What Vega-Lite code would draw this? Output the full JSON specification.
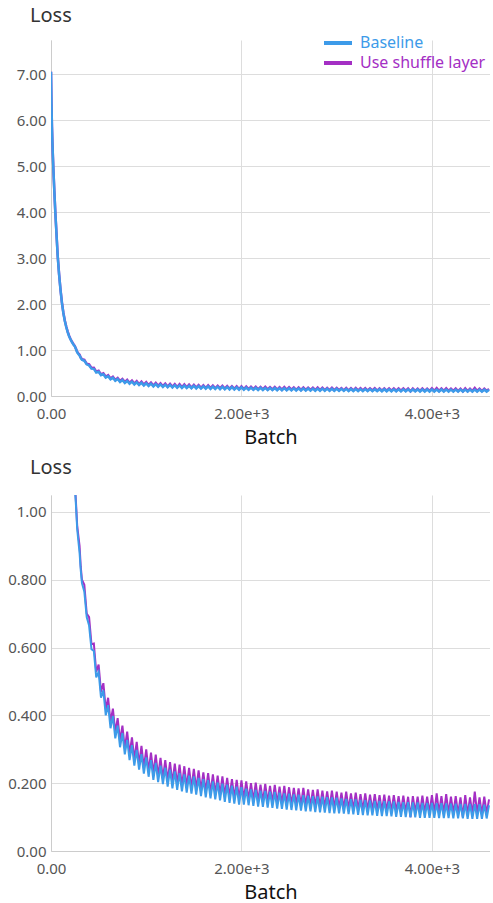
{
"$schema": "https://vega.github.io/schema/vega-lite/v6.json",
"padding": {"left": 5, "top": 6, "right": 0, "bottom": 5},
"background": "white",
"config": {
  "font": "Noto Sans",
  "view": {"stroke": null},
  "axis": {"gridColor": "#dddddd", "domainColor": "#cccccc", "ticks": false, "labelColor": "#555555", "labelFontSize": 15, "labelFont": "Noto Sans", "titleFont": "Noto Sans", "titleFontSize": 20, "titleFontWeight": "normal", "titleColor": "#111111"},
  "title": {"font": "Noto Sans", "fontSize": 20, "fontWeight": "normal", "color": "#333333", "anchor": "start", "frame": "group", "dx": -21}
},
"datasets": {
"loss": [
{"b":0,"bl":7.05,"sh":7.05},{"b":5,"bl":6.35,"sh":6.36},{"b":10,"bl":5.85,"sh":5.86},{"b":15,"bl":5.5,"sh":5.51},{"b":20,"bl":5.2,"sh":5.21},{"b":25,"bl":4.93,"sh":4.94},{"b":35,"bl":4.45,"sh":4.46},{"b":45,"bl":4.0,"sh":4.01},{"b":55,"bl":3.62,"sh":3.63},{"b":70,"bl":3.05,"sh":3.06},{"b":85,"bl":2.64,"sh":2.65},{"b":100,"bl":2.3,"sh":2.31},{"b":115,"bl":2.02,"sh":2.03},{"b":130,"bl":1.8,"sh":1.81},{"b":145,"bl":1.63,"sh":1.64},{"b":160,"bl":1.5,"sh":1.51},{"b":175,"bl":1.39,"sh":1.4},{"b":190,"bl":1.3,"sh":1.31},{"b":205,"bl":1.23,"sh":1.24},{"b":220,"bl":1.17,"sh":1.18},{"b":235,"bl":1.12,"sh":1.13},
{"b":250,"bl":1.08,"sh":1.085},{"b":262,"bl":1.02,"sh":1.03},{"b":275,"bl":0.95,"sh":0.96},{"b":287,"bl":0.915,"sh":0.93},{"b":300,"bl":0.88,"sh":0.9},{"b":312,"bl":0.83,"sh":0.84},{"b":325,"bl":0.79,"sh":0.8},{"b":350,"bl":0.765,"sh":0.785},{"b":375,"bl":0.69,"sh":0.7},{"b":400,"bl":0.665,"sh":0.69},{"b":425,"bl":0.595,"sh":0.61},{"b":450,"bl":0.59,"sh":0.612},{"b":475,"bl":0.512,"sh":0.528},{"b":500,"bl":0.528,"sh":0.55},{"b":525,"bl":0.452,"sh":0.47},{"b":550,"bl":0.474,"sh":0.495},{"b":575,"bl":0.4,"sh":0.418},{"b":600,"bl":0.43,"sh":0.452},{"b":625,"bl":0.362,"sh":0.38},{"b":650,"bl":0.398,"sh":0.42},{"b":675,"bl":0.332,"sh":0.35},{"b":700,"bl":0.37,"sh":0.392},{"b":725,"bl":0.306,"sh":0.325},{"b":750,"bl":0.348,"sh":0.37},{"b":775,"bl":0.285,"sh":0.302},{"b":800,"bl":0.328,"sh":0.352},{"b":825,"bl":0.268,"sh":0.285},{"b":850,"bl":0.312,"sh":0.335},{"b":875,"bl":0.252,"sh":0.27},{"b":900,"bl":0.298,"sh":0.322},{"b":925,"bl":0.24,"sh":0.255},{"b":950,"bl":0.286,"sh":0.31},{"b":975,"bl":0.228,"sh":0.245},{"b":1000,"bl":0.276,"sh":0.3},
{"b":1025,"bl":0.219,"sh":0.235},{"b":1050,"bl":0.268,"sh":0.29},{"b":1075,"bl":0.21,"sh":0.228},{"b":1100,"bl":0.26,"sh":0.284},{"b":1125,"bl":0.203,"sh":0.22},{"b":1150,"bl":0.252,"sh":0.275},{"b":1175,"bl":0.197,"sh":0.213},{"b":1200,"bl":0.246,"sh":0.268},{"b":1225,"bl":0.19,"sh":0.206},{"b":1250,"bl":0.24,"sh":0.262},{"b":1275,"bl":0.185,"sh":0.2},{"b":1300,"bl":0.235,"sh":0.258},{"b":1325,"bl":0.18,"sh":0.196},{"b":1350,"bl":0.23,"sh":0.255},{"b":1375,"bl":0.176,"sh":0.19},{"b":1400,"bl":0.226,"sh":0.25},{"b":1425,"bl":0.172,"sh":0.188},{"b":1450,"bl":0.222,"sh":0.245},{"b":1475,"bl":0.169,"sh":0.184},{"b":1500,"bl":0.22,"sh":0.242},
{"b":1525,"bl":0.166,"sh":0.182},{"b":1550,"bl":0.216,"sh":0.238},{"b":1575,"bl":0.162,"sh":0.178},{"b":1600,"bl":0.212,"sh":0.232},{"b":1625,"bl":0.158,"sh":0.174},{"b":1650,"bl":0.209,"sh":0.23},{"b":1675,"bl":0.155,"sh":0.17},{"b":1700,"bl":0.205,"sh":0.226},{"b":1725,"bl":0.152,"sh":0.168},{"b":1750,"bl":0.202,"sh":0.222},{"b":1775,"bl":0.149,"sh":0.165},{"b":1800,"bl":0.199,"sh":0.22},{"b":1825,"bl":0.145,"sh":0.162},{"b":1850,"bl":0.196,"sh":0.216},{"b":1875,"bl":0.142,"sh":0.158},{"b":1900,"bl":0.193,"sh":0.212},{"b":1925,"bl":0.14,"sh":0.155},{"b":1950,"bl":0.19,"sh":0.21},{"b":1975,"bl":0.137,"sh":0.152},{"b":2000,"bl":0.188,"sh":0.208},
{"b":2025,"bl":0.137,"sh":0.152},{"b":2050,"bl":0.184,"sh":0.205},{"b":2075,"bl":0.135,"sh":0.15},{"b":2100,"bl":0.182,"sh":0.2},{"b":2125,"bl":0.133,"sh":0.148},{"b":2150,"bl":0.18,"sh":0.202},{"b":2175,"bl":0.131,"sh":0.146},{"b":2200,"bl":0.178,"sh":0.196},{"b":2225,"bl":0.13,"sh":0.145},{"b":2250,"bl":0.177,"sh":0.198},{"b":2275,"bl":0.128,"sh":0.143},{"b":2300,"bl":0.175,"sh":0.192},{"b":2325,"bl":0.127,"sh":0.142},{"b":2350,"bl":0.174,"sh":0.195},{"b":2375,"bl":0.125,"sh":0.14},{"b":2400,"bl":0.172,"sh":0.19},{"b":2425,"bl":0.124,"sh":0.138},{"b":2450,"bl":0.17,"sh":0.192},{"b":2475,"bl":0.122,"sh":0.137},{"b":2500,"bl":0.169,"sh":0.188},
{"b":2525,"bl":0.121,"sh":0.136},{"b":2550,"bl":0.167,"sh":0.186},{"b":2575,"bl":0.12,"sh":0.135},{"b":2600,"bl":0.166,"sh":0.185},{"b":2625,"bl":0.119,"sh":0.133},{"b":2650,"bl":0.165,"sh":0.186},{"b":2675,"bl":0.117,"sh":0.132},{"b":2700,"bl":0.163,"sh":0.182},{"b":2725,"bl":0.117,"sh":0.131},{"b":2750,"bl":0.162,"sh":0.18},{"b":2775,"bl":0.115,"sh":0.13},{"b":2800,"bl":0.161,"sh":0.182},{"b":2825,"bl":0.114,"sh":0.129},{"b":2850,"bl":0.16,"sh":0.178},{"b":2875,"bl":0.113,"sh":0.128},{"b":2900,"bl":0.159,"sh":0.176},{"b":2925,"bl":0.112,"sh":0.127},{"b":2950,"bl":0.158,"sh":0.178},{"b":2975,"bl":0.111,"sh":0.126},{"b":3000,"bl":0.157,"sh":0.175},
{"b":3025,"bl":0.111,"sh":0.125},{"b":3050,"bl":0.155,"sh":0.172},{"b":3075,"bl":0.11,"sh":0.124},{"b":3100,"bl":0.154,"sh":0.175},{"b":3125,"bl":0.109,"sh":0.123},{"b":3150,"bl":0.153,"sh":0.17},{"b":3175,"bl":0.108,"sh":0.122},{"b":3200,"bl":0.152,"sh":0.172},{"b":3225,"bl":0.107,"sh":0.121},{"b":3250,"bl":0.151,"sh":0.168},{"b":3275,"bl":0.106,"sh":0.12},{"b":3300,"bl":0.15,"sh":0.17},{"b":3325,"bl":0.105,"sh":0.119},{"b":3350,"bl":0.149,"sh":0.166},{"b":3375,"bl":0.105,"sh":0.119},{"b":3400,"bl":0.148,"sh":0.168},{"b":3425,"bl":0.104,"sh":0.118},{"b":3450,"bl":0.148,"sh":0.165},{"b":3475,"bl":0.103,"sh":0.117},{"b":3500,"bl":0.147,"sh":0.166},
{"b":3525,"bl":0.103,"sh":0.117},{"b":3550,"bl":0.146,"sh":0.163},{"b":3575,"bl":0.102,"sh":0.116},{"b":3600,"bl":0.146,"sh":0.165},{"b":3625,"bl":0.101,"sh":0.115},{"b":3650,"bl":0.145,"sh":0.162},{"b":3675,"bl":0.101,"sh":0.115},{"b":3700,"bl":0.144,"sh":0.163},{"b":3725,"bl":0.1,"sh":0.114},{"b":3750,"bl":0.144,"sh":0.16},{"b":3775,"bl":0.099,"sh":0.1},{"b":3800,"bl":0.143,"sh":0.162},{"b":3825,"bl":0.099,"sh":0.113},{"b":3850,"bl":0.143,"sh":0.16},{"b":3875,"bl":0.098,"sh":0.112},{"b":3900,"bl":0.142,"sh":0.163},{"b":3925,"bl":0.098,"sh":0.112},{"b":3950,"bl":0.142,"sh":0.16},{"b":3975,"bl":0.098,"sh":0.112},{"b":4000,"bl":0.142,"sh":0.165},
{"b":4025,"bl":0.098,"sh":0.112},{"b":4050,"bl":0.141,"sh":0.17},{"b":4075,"bl":0.097,"sh":0.111},{"b":4100,"bl":0.141,"sh":0.162},{"b":4125,"bl":0.097,"sh":0.11},{"b":4150,"bl":0.14,"sh":0.168},{"b":4175,"bl":0.097,"sh":0.11},{"b":4200,"bl":0.14,"sh":0.16},{"b":4225,"bl":0.096,"sh":0.11},{"b":4250,"bl":0.14,"sh":0.162},{"b":4275,"bl":0.096,"sh":0.108},{"b":4300,"bl":0.139,"sh":0.158},{"b":4325,"bl":0.096,"sh":0.1},{"b":4350,"bl":0.139,"sh":0.165},{"b":4375,"bl":0.095,"sh":0.107},{"b":4400,"bl":0.139,"sh":0.158},{"b":4425,"bl":0.095,"sh":0.108},{"b":4450,"bl":0.138,"sh":0.175},{"b":4475,"bl":0.095,"sh":0.11},{"b":4500,"bl":0.138,"sh":0.158},{"b":4525,"bl":0.095,"sh":0.108},{"b":4550,"bl":0.137,"sh":0.16},{"b":4575,"bl":0.096,"sh":0.11},{"b":4600,"bl":0.135,"sh":0.152}
]
},
"resolve": {"scale": {"y": "independent", "color": "independent"}, "legend": {"color": "independent"}, "axis": {"y": "independent"}},
"spacing": 11,
"vconcat": [
{
  "width": 439, "height": 356,
  "title": {"text": "Loss", "offset": 8},
  "data": {"name": "loss"},
  "transform": [{"fold": ["bl", "sh"], "as": ["run", "loss"]}],
  "encoding": {
    "x": {"field": "b", "type": "quantitative", "scale": {"domain": [0, 4610], "nice": false, "zero": false},
          "axis": {"title": "Batch", "values": [0, 2000, 4000], "labelFlush": false, "labelExpr": "datum.value == 0 ? '0.00' : format(datum.value, '.2e')", "labelPadding": 10, "titlePadding": 6}},
    "y": {"field": "loss", "type": "quantitative", "scale": {"domain": [0, 7.74], "nice": false, "zero": false},
          "axis": {"title": null, "values": [0, 1, 2, 3, 4, 5, 6, 7], "format": ".2f", "labelPadding": 5, "minExtent": 46, "maxExtent": 46}},
    "color": {"field": "run", "type": "nominal", "scale": {"domain": ["bl", "sh"], "range": ["#3d9be9", "#a42fc4"]},
              "legend": {"title": null, "orient": "none", "legendX": 278, "legendY": -6, "symbolType": "M-2,0H2", "symbolSize": 196, "symbolStrokeWidth": 4, "labelFontSize": 16, "labelFont": "Noto Sans", "rowPadding": 3, "labelOffset": 13,
                         "labelExpr": "datum.value == 'bl' ? 'Baseline' : 'Use shuffle layer'",
                         "encode": {"labels": {"update": {"fill": {"signal": "datum.value == 'bl' ? '#3d9be9' : '#a42fc4'"}}}}}}
  },
  "layer": [
    {"transform": [{"filter": "datum.run == 'sh'"}], "mark": {"type": "line", "strokeWidth": 2.5, "clip": true}},
    {"transform": [{"filter": "datum.run == 'bl'"}], "mark": {"type": "line", "strokeWidth": 2.5, "clip": true}}
  ]
},
{
  "width": 439, "height": 356,
  "title": {"text": "Loss", "offset": 17},
  "data": {"name": "loss"},
  "transform": [{"fold": ["bl", "sh"], "as": ["run", "loss"]}],
  "encoding": {
    "x": {"field": "b", "type": "quantitative", "scale": {"domain": [0, 4610], "nice": false, "zero": false},
          "axis": {"title": "Batch", "values": [0, 2000, 4000], "labelFlush": false, "labelExpr": "datum.value == 0 ? '0.00' : format(datum.value, '.2e')", "labelPadding": 10, "titlePadding": 6}},
    "y": {"field": "loss", "type": "quantitative", "scale": {"domain": [0, 1.05], "nice": false, "zero": false},
          "axis": {"title": null, "values": [0, 0.2, 0.4, 0.6, 0.8, 1.0], "labelExpr": "datum.value == 0 ? '0.00' : format(datum.value, '.3r')", "labelPadding": 5, "minExtent": 46, "maxExtent": 46}},
    "color": {"field": "run", "type": "nominal", "scale": {"domain": ["bl", "sh"], "range": ["#3d9be9", "#a42fc4"]}, "legend": null}
  },
  "layer": [
    {"transform": [{"filter": "datum.run == 'sh'"}], "mark": {"type": "line", "strokeWidth": 2, "clip": true}},
    {"transform": [{"filter": "datum.run == 'bl'"}], "mark": {"type": "line", "strokeWidth": 2, "clip": true}}
  ]
}
]
}
